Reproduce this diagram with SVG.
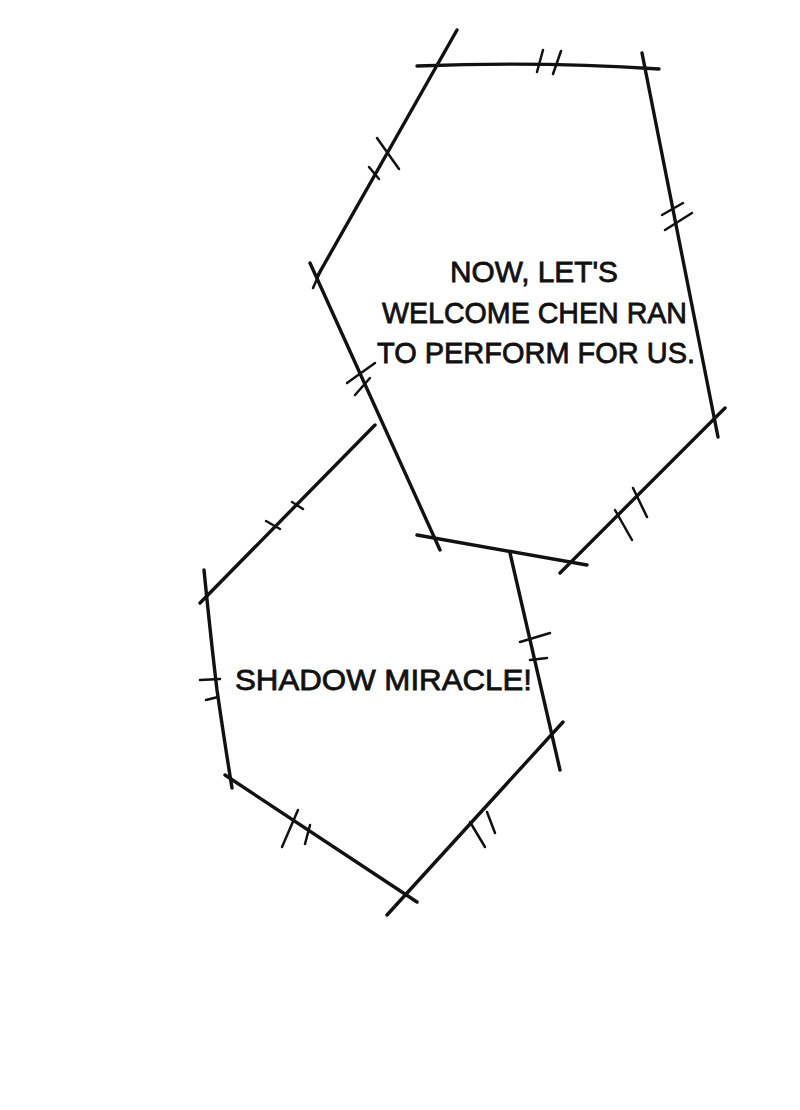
<svg xmlns="http://www.w3.org/2000/svg" width="800" height="1110" viewBox="0 0 800 1110">
<style>
.e{fill:none;stroke:#111;stroke-width:3.4;stroke-linecap:round}
.t{fill:none;stroke:#111;stroke-width:2.5;stroke-linecap:round}
.tx{font-family:"Liberation Sans",Arial,sans-serif;font-size:30px;fill:#111;stroke:#111;stroke-width:0.8}
</style>
<rect width="800" height="1110" fill="#fff"/>
<g id="bubble-top">
<path class="e" d="M417,66 Q540,61 659,69"/>
<path class="e" d="M457,30 L317,277"/>
<path class="e" d="M642,53 L718,437"/>
<path class="e" d="M310,263 L440,550"/>
<path class="e" d="M417,535 L587,565"/>
<path class="e" d="M725,408 L560,573"/>
<g class="t">
<line x1="537" y1="72" x2="543" y2="50"/>
<line x1="553" y1="74" x2="561" y2="51"/>
<line x1="377" y1="138" x2="399" y2="169"/>
<line x1="369" y1="167" x2="379" y2="179"/>
<line x1="662" y1="215" x2="683" y2="203"/>
<line x1="665" y1="230" x2="692" y2="213"/>
<line x1="347" y1="383" x2="375" y2="363"/>
<line x1="355" y1="395" x2="370" y2="378"/>
<line x1="615" y1="510" x2="632" y2="540"/>
<line x1="633" y1="488" x2="647" y2="517"/>
<line x1="313" y1="288" x2="321" y2="270"/>
</g>
<text class="tx" x="450" y="282" textLength="168" lengthAdjust="spacingAndGlyphs">NOW, LET'S</text>
<text class="tx" x="382" y="323" textLength="305" lengthAdjust="spacingAndGlyphs">WELCOME CHEN RAN</text>
<text class="tx" x="377" y="363" textLength="318" lengthAdjust="spacingAndGlyphs">TO PERFORM FOR US.</text>
</g>
<g id="connectors">
<path class="e" d="M375,425 L200,603"/>
<g class="t">
<line x1="266" y1="521" x2="280" y2="529"/>
<line x1="292" y1="502" x2="303" y2="509"/>
</g>
</g>
<g id="bubble-bottom">
<path class="e" d="M204,570 Q211,640 217,690 Q225,745 232,788"/>
<path class="e" d="M225,775 L417,902"/>
<path class="e" d="M387,915 L563,722"/>
<path class="e" d="M510,553 L560,770"/>
<g class="t">
<line x1="200" y1="680" x2="220" y2="679"/>
<line x1="206" y1="700" x2="218" y2="697"/>
<line x1="282" y1="847" x2="298" y2="810"/>
<line x1="305" y1="844" x2="310" y2="825"/>
<line x1="470" y1="822" x2="485" y2="847"/>
<line x1="487" y1="812" x2="495" y2="833"/>
<line x1="520" y1="642" x2="550" y2="633"/>
<line x1="530" y1="660" x2="547" y2="658"/>
</g>
<text class="tx" x="235" y="690" textLength="297" lengthAdjust="spacingAndGlyphs">SHADOW MIRACLE!</text>
</g>
</svg>
